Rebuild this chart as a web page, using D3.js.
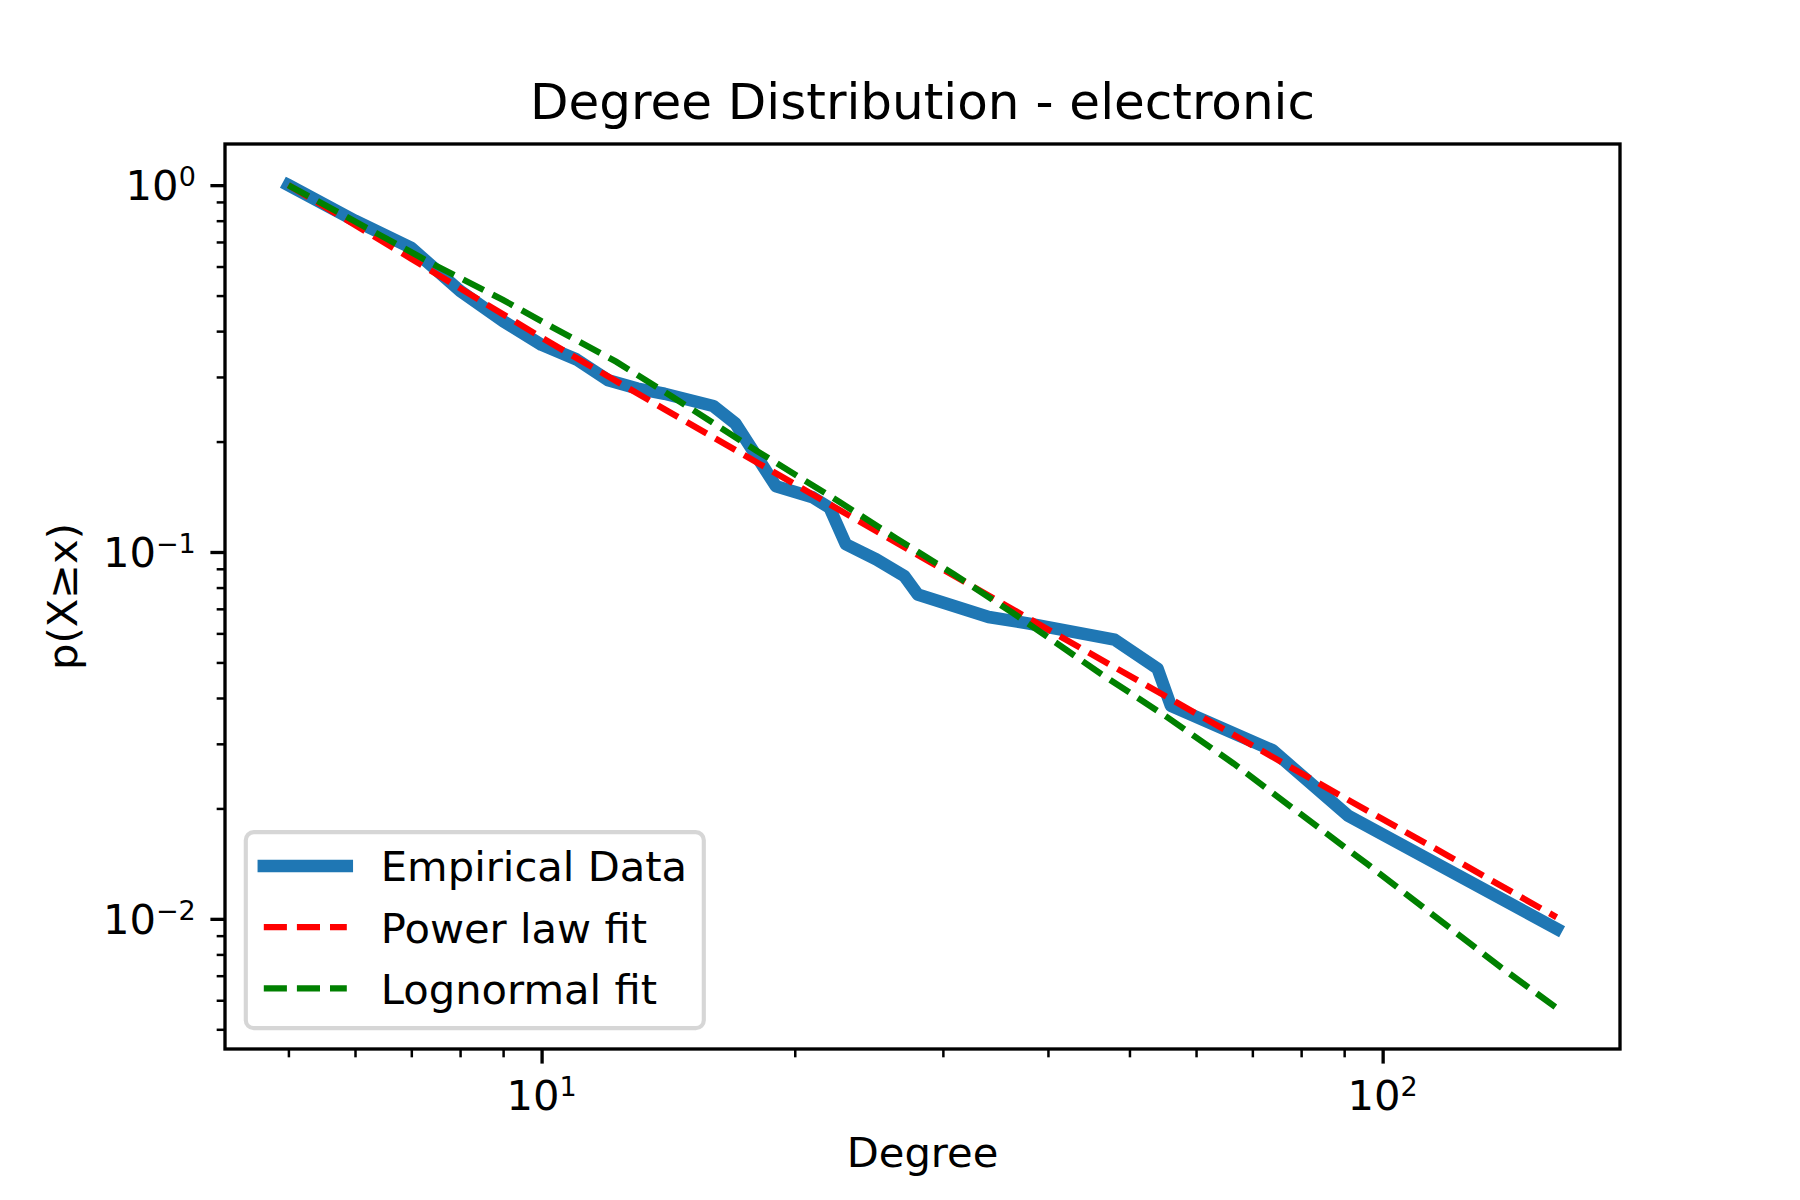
<!DOCTYPE html>
<html>
<head>
<meta charset="utf-8">
<script src="https://cdn.jsdelivr.net/npm/d3@7"></script>
<style>
  body { margin: 0; background: #fff; }
  svg { display: block; font-family: "DejaVu Sans", sans-serif; }
</style>
</head>
<body>
<div id="vis-container"></div>
<script>
// data
const empDegree = [5, 6, 7, 8, 9, 10, 11, 12, 13, 14, 16, 17, 19, 21, 22, 23, 25, 27, 28, 34, 38, 48, 54, 56, 74, 91, 161];
const empProb = [1.0, 0.80, 0.674, 0.515, 0.426, 0.367, 0.335, 0.294, 0.279, 0.270, 0.250, 0.224, 0.151, 0.141, 0.132,
                 0.105, 0.0955, 0.086, 0.0766, 0.0665, 0.0638, 0.0577, 0.0481, 0.0381, 0.0288, 0.0191, 0.0094];

const powerDegree = [5, 7, 10, 14, 20, 29, 40, 60, 90, 120, 161];
const powerProb = [1.0, 0.630, 0.384, 0.245, 0.153, 0.0937, 0.0615, 0.0363, 0.0214, 0.0148, 0.0101];

const lognDegree = [5, 6.41, 7.49, 8.99, 10.3, 12.27, 14.3, 18.0, 22.6, 26.4, 30.9, 36.4, 42.1, 46.2, 55.4,
                    66.5, 79.9, 95.9, 115.1, 138.2, 161];
const lognProb = [1.0, 0.733, 0.603, 0.487, 0.410, 0.330, 0.265, 0.189, 0.137, 0.109, 0.0870, 0.0680, 0.054,
                  0.0466, 0.0355, 0.0265, 0.0193, 0.0141, 0.0102, 0.00738, 0.00572];

const xMajor = [10, 100];
const xMajorExp = ["1", "2"];
const xMinor = [5, 6, 7, 8, 9, 20, 30, 40, 50, 60, 70, 80, 90];
const yMajor = [1, 0.1, 0.01];
const yMajorExp = ["0", "\u22121", "\u22122"];
const yMinor = [0.005, 0.006, 0.007, 0.008, 0.009, 0.02, 0.03, 0.04, 0.05, 0.06, 0.07, 0.08, 0.09,
                0.2, 0.3, 0.4, 0.5, 0.6, 0.7, 0.8, 0.9];

const seriesNames = ["Empirical Data", "Power law fit", "Lognormal fit"];
const seriesColors = ["#1f77b4", "#ff0000", "#008000"];

// figure layout (matplotlib style, 300 dpi)
const W = 1800, H = 1200;
const margin = { top: 144, right: 180, bottom: 151, left: 225 };
const width = W - margin.left - margin.right;
const height = H - margin.top - margin.bottom;

const tickFont = 41.67;
const majorLen = 14.6, minorLen = 8.33;

const root = d3.select("#vis-container")
  .append("svg")
    .attr("width", W)
    .attr("height", H);

root.append("rect").attr("width", W).attr("height", H).attr("fill", "#fff");

const svg = root.append("g")
    .attr("transform", `translate(${margin.left}, ${margin.top})`);

// log autoscale with 5% margin like matplotlib
function logPad(ext) {
  const a = Math.log10(ext[0]), b = Math.log10(ext[1]);
  const m = (b - a) * 0.05;
  return [Math.pow(10, a - m), Math.pow(10, b + m)];
}

const allX = empDegree.concat(powerDegree, lognDegree);
const allY = empProb.concat(powerProb, lognProb);

const x = d3.scaleLog().domain(logPad(d3.extent(allX))).range([0, width]);
const y = d3.scaleLog().domain(logPad(d3.extent(allY))).range([height, 0]);

svg.append("clipPath").attr("id", "clip")
  .append("rect").attr("width", width).attr("height", height);

const line = d3.line()
  .x(d => x(d[0]))
  .y(d => y(d[1]));

const plot = svg.append("g").attr("clip-path", "url(#clip)");

// empirical ccdf
plot.append("path")
  .datum(empDegree.map((d, i) => [d, empProb[i]]))
  .attr("fill", "none")
  .attr("stroke", seriesColors[0])
  .attr("stroke-width", 12.5)
  .attr("stroke-linecap", "square")
  .attr("stroke-linejoin", "round")
  .attr("d", line);

// power law fit
plot.append("path")
  .datum(powerDegree.map((d, i) => [d, powerProb[i]]))
  .attr("fill", "none")
  .attr("stroke", seriesColors[1])
  .attr("stroke-width", 6.25)
  .attr("stroke-dasharray", "23.1,10")
  .attr("d", line);

// lognormal fit
plot.append("path")
  .datum(lognDegree.map((d, i) => [d, lognProb[i]]))
  .attr("fill", "none")
  .attr("stroke", seriesColors[2])
  .attr("stroke-width", 6.25)
  .attr("stroke-dasharray", "23.1,10")
  .attr("d", line);

// ticks
function styleAxis(g, sw) {
  g.select(".domain").remove();
  g.selectAll(".tick line").attr("stroke", "#000").attr("stroke-width", sw);
  g.selectAll(".tick text").remove();
}

svg.append("g")
  .attr("transform", `translate(0, ${height})`)
  .call(d3.axisBottom(x).tickValues(xMinor).tickSize(minorLen).tickFormat(""))
  .call(g => styleAxis(g, 2.5));
svg.append("g")
  .attr("transform", `translate(0, ${height})`)
  .call(d3.axisBottom(x).tickValues(xMajor).tickSize(majorLen).tickFormat(""))
  .call(g => styleAxis(g, 3.33));
svg.append("g")
  .call(d3.axisLeft(y).tickValues(yMinor).tickSize(minorLen).tickFormat(""))
  .call(g => styleAxis(g, 2.5));
svg.append("g")
  .call(d3.axisLeft(y).tickValues(yMajor).tickSize(majorLen).tickFormat(""))
  .call(g => styleAxis(g, 3.33));

// tick labels as 10^n
function powerLabel(sel, exp) {
  sel.append("tspan").text("10");
  sel.append("tspan").attr("font-size", 27).attr("dy", -14).text(exp);
}

svg.selectAll(".xlab")
  .data(xMajor)
  .enter()
  .append("text")
    .attr("x", d => x(d))
    .attr("y", height + 61)
    .attr("text-anchor", "middle")
    .attr("font-size", tickFont)
    .each(function (d, i) { powerLabel(d3.select(this), xMajorExp[i]); });

svg.selectAll(".ylab")
  .data(yMajor)
  .enter()
  .append("text")
    .attr("x", -29.2)
    .attr("y", d => y(d) + 15)
    .attr("text-anchor", "end")
    .attr("font-size", tickFont)
    .each(function (d, i) { powerLabel(d3.select(this), yMajorExp[i]); });

// frame
svg.append("rect")
  .attr("width", width)
  .attr("height", height)
  .attr("fill", "none")
  .attr("stroke", "#000")
  .attr("stroke-width", 3.33);

// title and axis labels
svg.append("text")
  .attr("x", width / 2)
  .attr("y", -25)
  .attr("text-anchor", "middle")
  .attr("font-size", 50)
  .text("Degree Distribution - electronic");

svg.append("text")
  .attr("x", width / 2)
  .attr("y", height + 118)
  .attr("text-anchor", "middle")
  .attr("font-size", tickFont)
  .text("Degree");

svg.append("text")
  .attr("transform", `translate(${77 - margin.left}, ${height / 2}) rotate(-90)`)
  .attr("text-anchor", "middle")
  .attr("font-size", tickFont)
  .text("p(X\u2265x)");

// legend (lower left)
const legend = svg.append("g")
  .attr("transform", `translate(20.8, ${height - 20.8 - 196})`);

legend.append("rect")
  .attr("width", 458)
  .attr("height", 196)
  .attr("rx", 8)
  .attr("fill", "#fff")
  .attr("fill-opacity", 0.8)
  .attr("stroke", "#cccccc")
  .attr("stroke-opacity", 0.8)
  .attr("stroke-width", 4.17);

const rows = legend.selectAll(".row")
  .data(seriesNames)
  .enter()
  .append("g")
    .attr("transform", (d, i) => `translate(0, ${33.7 + i * 61.2})`);

rows.append("line")
  .attr("x1", 18).attr("x2", 101)
  .attr("stroke", (d, i) => seriesColors[i])
  .attr("stroke-width", (d, i) => i === 0 ? 12.5 : 6.25)
  .attr("stroke-linecap", (d, i) => i === 0 ? "square" : "butt")
  .attr("stroke-dasharray", (d, i) => i === 0 ? null : "23.1,10");

rows.append("text")
  .attr("x", 135)
  .attr("y", 15.5)
  .attr("font-size", tickFont)
  .text(d => d);
</script>
</body>
</html>
